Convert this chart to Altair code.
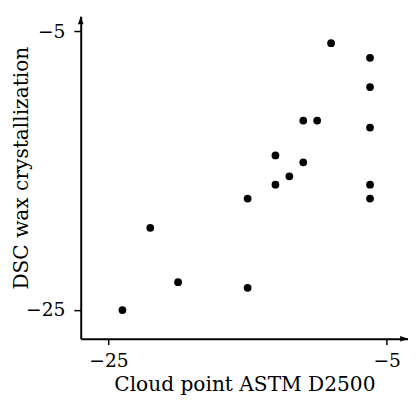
import altair as alt
import pandas as pd

# Data
cloud_point = [-24, -22, -20, -15, -15, -13, -13, -12, -11, -11, -10, -9,
               -6.2, -6.2, -6.2, -6.2, -6.2]
dsc_wax = [-25, -19.1, -23, -23.4, -17, -16, -13.9, -15.4, -14.4, -11.4, -11.4, -5.85,
           -6.9, -9, -11.9, -16, -17]

x_ticks = [-25, -5]
y_ticks = [-25, -5]
x_domain = [-27, -3.47]
y_domain = [-27.05, -3.92]

FONT = "DejaVu Serif"

df = pd.DataFrame({"x": cloud_point, "y": dsc_wax})

xs = alt.Scale(domain=x_domain, nice=False, zero=False)
ys = alt.Scale(domain=y_domain, nice=False, zero=False)

points = alt.Chart(df).mark_point(filled=True, color="black", size=62, opacity=1).encode(
    x=alt.X("x:Q", scale=xs,
            axis=alt.Axis(values=x_ticks, title="Cloud point ASTM D2500",
                          titleY=53, titleBaseline="alphabetic")),
    y=alt.Y("y:Q", scale=ys,
            axis=alt.Axis(values=y_ticks, title="DSC wax crystallization",
                          titleX=-60, titleY=154, titleAngle=270,
                          titleAlign="center", titleBaseline="middle")),
)

arrow_up = alt.Chart(pd.DataFrame({"x": [x_domain[0]], "y": [y_domain[1]]})).mark_point(
    shape="M0,0 L-0.35,1 L0.35,1 Z", filled=True, color="black", size=256, opacity=1
).encode(x=alt.X("x:Q", scale=xs), y=alt.Y("y:Q", scale=ys))

arrow_right = alt.Chart(pd.DataFrame({"x": [x_domain[1]], "y": [y_domain[0]]})).mark_point(
    shape="M0,0 L-1,-0.35 L-1,0.35 Z", filled=True, color="black", size=256, opacity=1
).encode(x=alt.X("x:Q", scale=xs), y=alt.Y("y:Q", scale=ys))

chart = alt.layer(points, arrow_up, arrow_right).properties(
    width=333, height=328,
    autosize=alt.AutoSizeParams(type="none"),
    padding={"left": 74, "top": 5, "right": 0, "bottom": 60},
).configure_view(stroke=None).configure_axis(
    grid=False,
    domainColor="black", domainWidth=2,
    tickColor="black", tickWidth=1.5, tickSize=6,
    labelFont=FONT, labelFontSize=19, labelColor="black", labelPadding=7,
    titleFont=FONT, titleFontSize=20.5, titleColor="black", titleFontWeight="normal",
).configure_axisY(tickSize=7, labelPadding=9)

chart.save("out.html", embed_options={"renderer": "svg", "actions": False})
